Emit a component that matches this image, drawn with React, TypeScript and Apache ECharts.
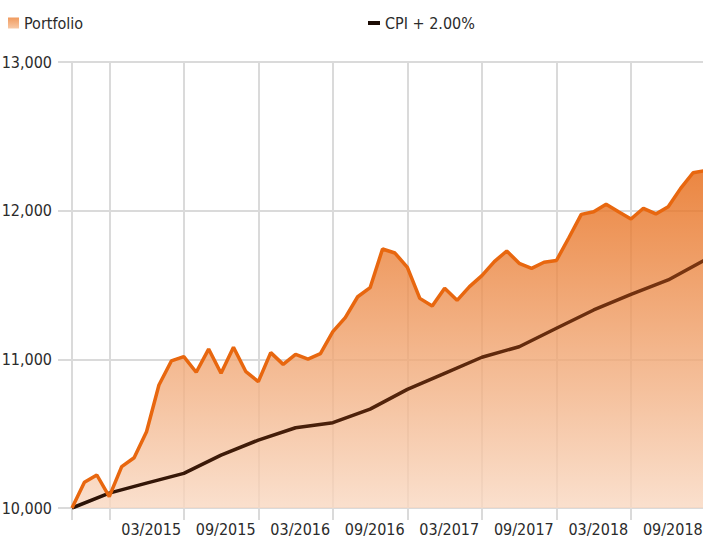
import React, { useEffect, useRef } from "react";
import * as echarts from "echarts";

// Month of each portfolio observation (index = position on the x axis)
const months = [
  "12/2014", "01/2015", "02/2015", "03/2015", "04/2015", "05/2015", "06/2015", "07/2015", "08/2015", "09/2015",
  "10/2015", "11/2015", "12/2015", "01/2016", "02/2016", "03/2016", "04/2016", "05/2016", "06/2016", "07/2016",
  "08/2016", "09/2016", "10/2016", "11/2016", "12/2016", "01/2017", "02/2017", "03/2017", "04/2017", "05/2017",
  "06/2017", "07/2017", "08/2017", "09/2017", "10/2017", "11/2017", "12/2017", "01/2018", "02/2018", "03/2018",
  "04/2018", "05/2018", "06/2018", "07/2018", "08/2018", "09/2018", "10/2018", "11/2018", "12/2018", "01/2019",
  "02/2019", "03/2019",
];

const portfolio = [
  10000, 10173, 10222, 10076, 10278, 10338, 10513, 10827, 10989, 11018,
  10913, 11069, 10906, 11081, 10917, 10850, 11045, 10966, 11034, 11002,
  11038, 11186, 11280, 11421, 11482, 11742, 11715, 11619, 11410, 11359,
  11478, 11397, 11489, 11563, 11657, 11729, 11646, 11612, 11653, 11665,
  11818, 11975, 11993, 12043, 11993, 11944, 12016, 11978, 12027, 12150,
  12255, 12270,
];

// CPI + 2.00% benchmark, quarterly observations
const cpiMonths = [
  "12/2014", "03/2015", "06/2015", "09/2015", "12/2015", "03/2016", "06/2016", "09/2016", "12/2016",
  "03/2017", "06/2017", "09/2017", "12/2017", "03/2018", "06/2018", "09/2018", "12/2018", "03/2019",
];
const cpi = [
  10000, 10100, 10167, 10233, 10356, 10457, 10540, 10574, 10665,
  10798, 10906, 11014, 11085, 11209, 11332, 11437, 11534, 11671,
];

const tickLabels = ["03/2015", "09/2015", "03/2016", "09/2016", "03/2017", "09/2017", "03/2018", "09/2018"];

const FONT = "'DejaVu Sans Condensed', 'Liberation Sans Narrow', sans-serif";
const GRID = "#dadada";
const TEXT = "#2b2b2b";

export default function App() {
  const ref = useRef<HTMLDivElement>(null);

  useEffect(() => {
    if (!ref.current) return;
    const chart = echarts.init(ref.current, null, { renderer: "svg" });

    const portfolioData = portfolio.map((v, i) => [i, v]);
    const cpiData = cpi.map((v, i) => [months.indexOf(cpiMonths[i]), v]);
    const tickIdx = tickLabels.map((l) => months.indexOf(l));

    const option: any = {
      animation: false,
      grid: { left: 72, right: 0, top: 62, bottom: 30, containLabel: false, outerBoundsMode: "none" },
      legend: [
        {
          left: 3,
          top: 10,
          itemWidth: 11,
          itemHeight: 11,
          textStyle: { fontFamily: FONT, fontSize: 16, color: TEXT },
          data: [
            {
              name: "Portfolio",
              icon: "rect",
              itemStyle: {
                color: new echarts.graphic.LinearGradient(0, 0, 0, 1, [
                  { offset: 0, color: "#f09a5e" },
                  { offset: 1, color: "#f8c9a6" },
                ]),
              },
            },
          ],
        },
        {
          left: 363,
          top: 10,
          itemWidth: 12,
          itemHeight: 4,
          textStyle: { fontFamily: FONT, fontSize: 16, color: TEXT },
          data: [{ name: "CPI + 2.00%", icon: "rect", itemStyle: { color: "#1c0c04" } }],
        },
      ],
      xAxis: {
        type: "value",
        min: 0,
        max: 50.8,
        axisLine: { show: false },
        axisTick: {
          show: true,
          customValues: [0, ...tickIdx],
          length: 12,
          lineStyle: { color: GRID, width: 2 },
        },
        splitLine: { show: true, lineStyle: { color: GRID, width: 2 } },
        axisLabel: {
          customValues: tickIdx,
          formatter: (v: number) => months[Math.round(v)],
          align: "left",
          padding: [0, 0, 0, 12],
          margin: 13,
          fontFamily: FONT,
          fontSize: 16,
          color: TEXT,
        },
      },
      yAxis: {
        type: "value",
        min: 10000,
        max: 13000,
        interval: 1000,
        axisLine: { show: false },
        axisTick: { show: true, length: 14, lineStyle: { color: GRID, width: 2 } },
        splitLine: { show: true, lineStyle: { color: GRID, width: 2 } },
        axisLabel: {
          margin: 20,
          fontFamily: FONT,
          fontSize: 16,
          color: TEXT,
          formatter: (v: number) => v.toLocaleString("en-US"),
        },
      },
      series: [
        {
          name: "Portfolio",
          type: "line",
          data: portfolioData,
          showSymbol: false,
          lineStyle: { width: 0 },
          itemStyle: { color: "#e8670f" },
          areaStyle: {
            opacity: 1,
            color: new echarts.graphic.LinearGradient(0, 0, 0, 1, [
              { offset: 0, color: "rgba(230,104,18,0.8)" },
              { offset: 1, color: "rgba(249,216,193,0.8)" },
            ]),
          },
          z: 2,
        },
        {
          name: "CPI + 2.00%",
          type: "line",
          data: cpiData,
          showSymbol: false,
          itemStyle: { color: "#1c0c04" },
          lineStyle: {
            width: 3.5,
            color: new echarts.graphic.LinearGradient(0, 0, 1, 0, [
              { offset: 0, color: "#2a1206" },
              { offset: 1, color: "#7a3510" },
            ]),
          },
          z: 3,
        },
        {
          name: "Portfolio",
          type: "line",
          data: portfolioData,
          showSymbol: false,
          itemStyle: { color: "#e8670f" },
          lineStyle: { width: 3.5, color: "#e8670f" },
          z: 4,
        },
      ],
    };

    chart.setOption(option);
    return () => chart.dispose();
  }, []);

  return (
    <div
      ref={ref}
      style={{ position: "fixed", left: 0, top: 0, width: 703, height: 538, background: "#fff" }}
    />
  );
}
